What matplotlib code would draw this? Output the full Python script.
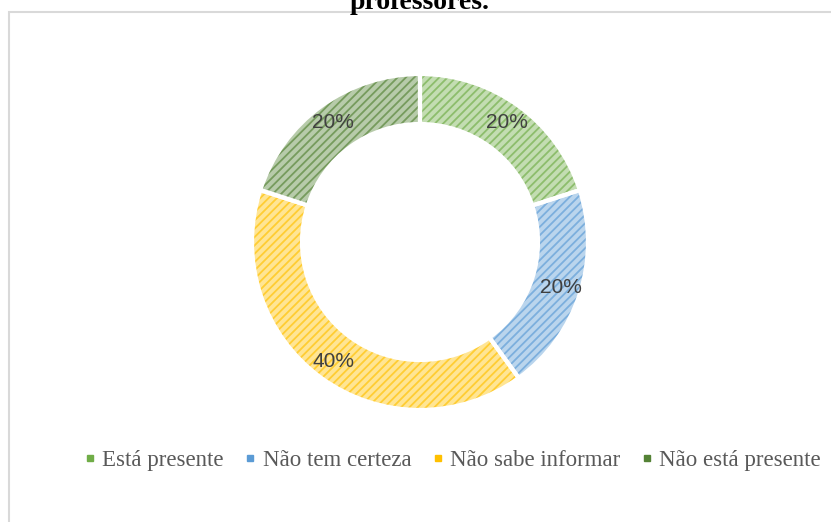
import numpy as np
import matplotlib
matplotlib.use("Agg")
import matplotlib.pyplot as plt
from matplotlib.patches import Rectangle
from matplotlib.lines import Line2D
from matplotlib.colors import to_rgb

# ---------- data ----------
categories = ["Está presente", "Não tem certeza", "Não sabe informar", "Não está presente"]
values = [20, 20, 40, 20]
base_colors = ["#70AD47", "#5B9BD5", "#FFC000", "#548235"]
title = "professores."

# ---------- helpers ----------
def mix(c, w):
    """Blend colour c with white; w = share of the colour."""
    r = np.array(to_rgb(c))
    return tuple(w * r + (1 - w) * np.ones(3))

face_colors = [mix(c, 0.42) for c in base_colors]
hatch_colors = [mix(c, 0.8) for c in base_colors]

plt.rcParams["hatch.linewidth"] = 1.3

W, H = 831, 522
fig = plt.figure(figsize=(W / 100, H / 100), dpi=100)

# donut geometry in pixels
cx, cy, R, ring = 420, 242, 168, 50
ax = fig.add_axes([(cx - R) / W, 1 - (cy + R) / H, 2 * R / W, 2 * R / H])

wedges, _ = ax.pie(values, colors=face_colors, startangle=90, counterclock=False,
                   radius=1, wedgeprops=dict(width=ring / R, linewidth=0))
for w, hc in zip(wedges, hatch_colors):
    w.set_edgecolor(hc)
    w.set_hatch("////")
    w.set_linewidth(0)

# white separators
sep, _ = ax.pie(values, startangle=90, counterclock=False, radius=1,
                wedgeprops=dict(width=ring / R, fill=False, edgecolor="white", linewidth=3))

# percent labels
r_lab = 148 / R
for w, v in zip(wedges, values):
    ang = np.deg2rad((w.theta1 + w.theta2) / 2)
    ax.text(r_lab * np.cos(ang), r_lab * np.sin(ang), f"{v}%", ha="center", va="center",
            fontsize=15, family="Liberation Sans", color="#404040")

ax.set_xlim(-1, 1)
ax.set_ylim(-1, 1)
ax.axis("off")

# chart border (cropped at right and bottom)
fig.patches.append(Rectangle((9 / W, -0.1), 1.2, 1 - 12 / H + 0.1, transform=fig.transFigure,
                             fill=False, edgecolor="#D9D9D9", linewidth=1.5))

# title, cut at the top edge as in the source
fig.text(420 / W, 1 - 9 / H, title, ha="center", va="baseline", fontsize=20,
         fontweight="bold", family="Liberation Serif", color="black")

# legend
handles = [Line2D([], [], marker="s", linestyle="none", markersize=5, color=c) for c in base_colors]
fig.legend(handles, categories, loc="center", bbox_to_anchor=(453 / W, 1 - 460 / H), ncol=4,
           frameon=False, prop={"family": "Liberation Serif", "size": 16.5},
           handlelength=0.4, handletextpad=0.35, columnspacing=0.95,
           labelcolor="#595959")

fig.savefig("out.png", dpi=100)
